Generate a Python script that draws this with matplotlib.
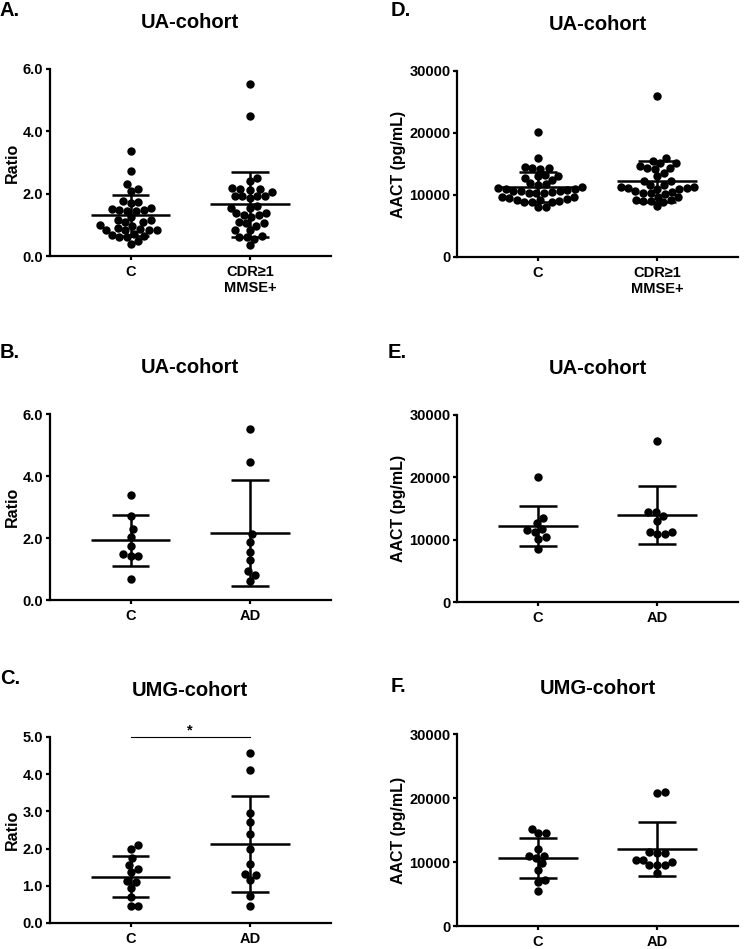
import numpy as np
import matplotlib
matplotlib.use("Agg")
import matplotlib.pyplot as plt

plt.rcParams['font.family'] = ['Liberation Sans', 'DejaVu Sans']
plt.rcParams['font.weight'] = 'bold'

# group labels
groups_cdr = ["C", "CDR\u22651\nMMSE+"]
groups_ad = ["C", "AD"]

# A. ratio, UA-cohort (C vs CDR>=1 MMSE+)
a_c = [3.38, 2.73, 2.30, 2.09, 2.15, 1.77, 1.69, 1.72, 1.53, 1.48, 1.44, 1.44, 1.48,
       1.50, 1.24, 1.16, 1.16, 1.10, 1.10, 0.97, 0.99, 0.90, 0.88, 0.84, 0.82, 0.82,
       0.84, 0.67, 0.64, 0.60, 0.62, 0.38, 0.49, 0.72]
a_cdr = [5.52, 4.48, 2.49, 2.42, 2.17, 2.15, 2.11, 2.15, 1.92, 1.92, 2.04, 1.92, 1.92,
         1.85, 1.55, 1.61, 1.55, 1.37, 1.32, 1.24, 1.32, 1.37, 1.10, 1.05, 0.97, 1.05,
         0.83, 0.83, 0.65, 0.60, 0.55, 0.62, 0.35]
a_mean = [1.30, 1.66]
a_sd = [0.66, 1.05]

# B. ratio, UA-cohort (C vs AD)
b_c = [3.39, 2.72, 2.28, 2.04, 1.75, 1.43, 1.43, 1.47, 0.67]
b_ad = [5.52, 4.46, 2.12, 1.88, 1.54, 1.29, 0.94, 0.81, 0.62]
b_mean = [1.92, 2.15]
b_sd = [0.81, 1.71]

# C. ratio, UMG-cohort (C vs AD)
c_c = [2.00, 2.09, 1.76, 1.57, 1.45, 1.37, 1.10, 1.12, 0.94, 0.69, 0.47, 0.47]
c_ad = [4.57, 4.12, 2.97, 2.71, 2.39, 2.00, 1.59, 1.28, 1.33, 1.16, 0.72, 0.47]
c_mean = [1.25, 2.12]
c_sd = [0.55, 1.30]

# D. AACT, UA-cohort (C vs CDR>=1 MMSE+)
d_c = [20100, 15900, 14300, 14500, 14200, 14400, 13100, 12700, 13000, 13300, 11900,
       12500, 11700, 11600, 11300, 11200, 11000, 10900, 10800, 10700, 10600, 10500,
       10400, 10300, 10400, 10600, 9600, 9400, 9200, 9000, 8900, 8800, 8900, 9200,
       9500, 9700, 8100, 8000]
d_cdr = [25900, 16000, 15100, 14700, 14300, 14300, 14200, 13600, 15100, 15500, 13000,
         12200, 12200, 11600, 11300, 11100, 11000, 11000, 11100, 11300, 11600, 10600,
         10400, 10200, 10300, 10500, 9700, 9200, 9000, 8900, 9000, 9200, 9700, 8200]
d_mean = [11300, 12200]
d_sd = [2470, 3250]

# E. AACT, UA-cohort (C vs AD)
e_c = [20130, 13400, 12600, 11680, 11300, 11520, 10180, 10450, 8580]
e_ad = [25820, 14370, 13820, 14370, 12970, 11250, 10830, 10830, 11250]
e_mean = [12160, 13930]
e_sd = [3250, 4700]

# F. AACT, UMG-cohort (C vs AD)
f_c = [14600, 14500, 15190, 12050, 11000, 10690, 11000, 9810, 8760, 7200, 6930, 5480]
f_ad = [20770, 20870, 11470, 10300, 9970, 9550, 10330, 11380, 11530, 9550, 9550, 8250]
f_mean = [10600, 12000]
f_sd = [3090, 4250]

fig = plt.figure(figsize=(7.49, 9.49), dpi=100)
W, H = 749.0, 949.0

DOT = 8.4  # marker diameter in px


def swarm_x(ax, x0, vals, diam):
    # simple beeswarm in pixel space
    T = ax.transData
    inv = T.inverted()
    cx = T.transform((x0, 0))[0]
    placed = []
    xs = np.zeros(len(vals))
    for i in np.argsort(vals, kind="stable"):
        py = T.transform((x0, vals[i]))[1]
        cands = [0.0]
        for px, qy in placed:
            dy = py - qy
            if abs(dy) < diam:
                dx = np.sqrt(diam ** 2 - dy ** 2)
                cands += [px + dx, px - dx]
        cands.sort(key=abs)
        for c in cands:
            if all((c - px) ** 2 + (py - qy) ** 2 >= diam ** 2 - 1e-6 for px, qy in placed):
                break
        placed.append((c, py))
        xs[i] = inv.transform((cx + c, py))[0]
    return xs


panels = [
    ("A.", "UA-cohort", groups_cdr, [a_c, a_cdr], a_mean, a_sd, "Ratio", 6, 2,
     (49.5, 69, 331, 256), (0, 11)),
    ("B.", "UA-cohort", groups_ad, [b_c, b_ad], b_mean, b_sd, "Ratio", 6, 2,
     (49.5, 414, 331, 600), (0, 353)),
    ("C.", "UMG-cohort", groups_ad, [c_c, c_ad], c_mean, c_sd, "Ratio", 5, 1,
     (49.5, 737, 331, 923), (0, 679)),
    ("D.", "UA-cohort", groups_cdr, [d_c, d_cdr], d_mean, d_sd, "AACT (pg/mL)", 30000, 10000,
     (457, 71, 738, 257), (391, 10)),
    ("E.", "UA-cohort", groups_ad, [e_c, e_ad], e_mean, e_sd, "AACT (pg/mL)", 30000, 10000,
     (457, 415, 738, 602), (388, 352)),
    ("F.", "UMG-cohort", groups_ad, [f_c, f_ad], f_mean, f_sd, "AACT (pg/mL)", 30000, 10000,
     (457, 734, 738, 926), (391, 686)),
]

for letter, title, groups, data, means, sds, ylab, ymax, ystep, box, lpos in panels:
    l, t, r, b = box
    ax = fig.add_axes([l / W, 1 - b / H, (r - l) / W, (b - t) / H])
    ax.set_xlim(0.32, 2.68)
    ax.set_ylim(0, ymax)
    xpos = [1, 2]
    for x0, vals, m, s in zip(xpos, data, means, sds):
        xs = swarm_x(ax, x0, vals, DOT * 0.92)
        ax.scatter(xs, vals, s=(DOT / 1.389) ** 2, color="black", linewidths=0, zorder=3,
                   clip_on=False)
        ax.hlines(m, x0 - 0.333, x0 + 0.333, color="black", lw=1.8, zorder=4)
        ax.vlines(x0, m - s, m + s, color="black", lw=1.8, zorder=4)
        ax.hlines([m - s, m + s], x0 - 0.158, x0 + 0.158, color="black", lw=1.8, zorder=4)

    ticks = np.arange(0, ymax + ystep / 2, ystep)
    ax.set_yticks(ticks)
    if ymax < 100:
        ax.set_yticklabels(["%.1f" % v for v in ticks])
    else:
        ax.set_yticklabels(["%d" % v for v in ticks])
    ax.set_xticks(xpos)
    ax.set_xticklabels(groups)
    for sp in ["top", "right"]:
        ax.spines[sp].set_visible(False)
    for sp in ["left", "bottom"]:
        ax.spines[sp].set_linewidth(1.6)
    ax.tick_params(axis="both", direction="out", length=3.2, width=1.6, labelsize=10.5)
    ax.tick_params(axis="y", pad=1.5)
    ax.tick_params(axis="x", pad=3)
    for lab in ax.get_xticklabels() + ax.get_yticklabels():
        lab.set_fontweight("bold")
    ax.set_ylabel(ylab, fontsize=11.5, fontweight="bold")
    if ymax < 100:
        ax.yaxis.set_label_coords(-0.105, 0.5)
    else:
        ax.yaxis.set_label_coords(-0.18, 0.5)

    fig.text((l + r) / 2 / W, 1 - (t - 46) / H, title, ha="center", va="center",
             fontsize=14.5, fontweight="bold")
    fig.text(lpos[0] / W, 1 - lpos[1] / H, letter, ha="left", va="center",
             fontsize=14.5, fontweight="bold")

    if letter == "C.":
        ax.plot([1, 2], [5.0, 5.0], color="black", lw=0.8, clip_on=False)
        ax.text(1.5, 5.0, "*", ha="center", va="bottom", fontsize=10.5, fontweight="bold")

fig.savefig("out.png", dpi=100, facecolor="white")
